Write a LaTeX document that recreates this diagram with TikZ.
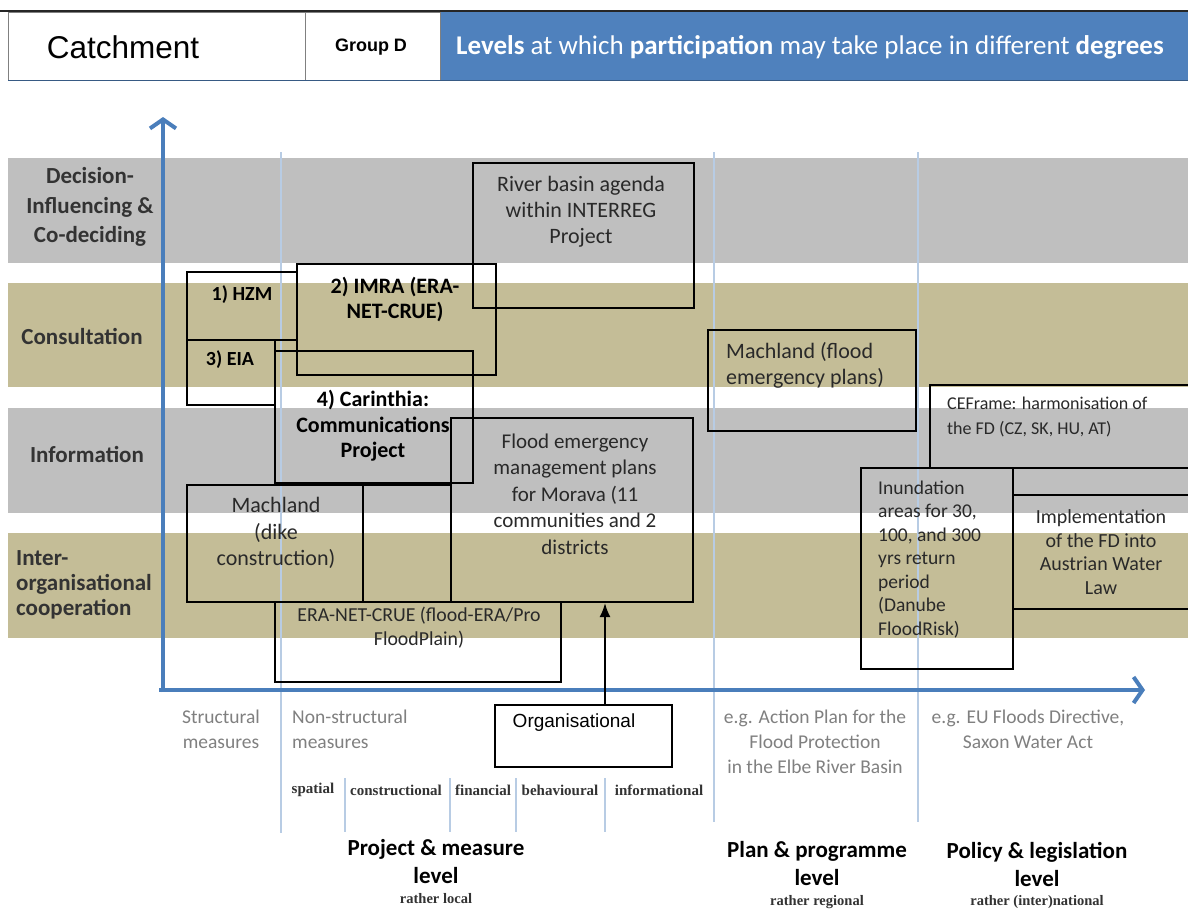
\documentclass[tikz,border=0pt]{standalone}
\usepackage{fontspec}
\setmainfont{Carlito}
\newfontfamily\arialfont{Liberation Sans}
\newfontfamily\seriffont{Liberation Serif}
\usetikzlibrary{arrows.meta}
\definecolor{bandgray}{HTML}{BFBFBF}
\definecolor{bandtan}{HTML}{C4BD97}
\definecolor{axisblue}{HTML}{4A7EBB}
\definecolor{gridblue}{HTML}{B8CCE4}
\definecolor{headblue}{HTML}{4F81BD}
\definecolor{labelgray}{HTML}{333333}
\definecolor{notegray}{HTML}{808080}
\begin{document}
\begin{tikzpicture}[x=1pt,y=-1pt,
  box/.style={draw=black, line width=2pt, inner sep=0pt, anchor=north west},
  boxtext/.style={align=center, inner sep=0pt, text=labelgray!80!black, font=\fontsize{21.5}{26}\selectfont},
  boldtext/.style={align=center, inner sep=0pt, text=black, font=\bfseries\fontsize{22}{25.5}\selectfont},
  levellabel/.style={align=center, inner sep=0pt, text=labelgray, font=\bfseries\fontsize{23}{29.5}\selectfont},
  axisline/.style={draw=axisblue, line width=4pt, -{Straight Barb[length=9pt,width=26pt,line width=4pt]}},
  gridline/.style={draw=gridblue, line width=1.6pt},
  note/.style={align=center, inner sep=0pt, text=notegray, font=\fontsize{19.5}{25}\selectfont},
  subcat/.style={inner sep=0pt, text=labelgray, font=\seriffont\bfseries\fontsize{15}{16}\selectfont},
  levelname/.style={align=center, inner sep=0pt, text=black, font=\bfseries\fontsize{23}{28}\selectfont},
  levelsub/.style={inner sep=0pt, text=labelgray, font=\seriffont\bfseries\fontsize{14.5}{15}\selectfont}]
\useasboundingbox (0,0) rectangle (1188,910);
\fill[white] (0,0) rectangle (1188,910);

% ---- header bar ----
\fill[headblue] (440,12) rectangle (1188,80);
\draw[line width=0.8pt, draw=gray, fill=white] (8,12) rectangle (305,80);
\draw[line width=0.8pt, draw=gray, fill=white] (305,12) rectangle (440,80);
\draw[line width=2.5pt, draw=black!85] (0,11) -- (1188,11);
\draw[line width=1.5pt, draw=headblue!70!black] (8,80.5) -- (1188,80.5);
\node[inner sep=0pt, font=\arialfont\fontsize{31.5}{33}\selectfont] (catchment) at (123,47) {Catchment};
\node[inner sep=0pt, font=\arialfont\bfseries\fontsize{18}{20}\selectfont] (groupd) at (371,47) {Group D};
\node[inner sep=0pt, text=white, font=\fontsize{27}{29}\selectfont] (headline) at (810,47)
  {\textbf{Levels} at which \textbf{participation} may take place in different \textbf{degrees}};

% ---- participation bands ----
\fill[bandgray] (8,158) rectangle (1188,263);
\fill[bandtan]  (8,283) rectangle (1188,387);
\fill[bandgray] (8,408) rectangle (1188,513);
\fill[bandtan]  (8,533) rectangle (1188,638);

\node[levellabel] (decide) at (90,207) {Decision-\\Influencing \&\\Co-deciding};
\node[levellabel] (consult) at (82,336) {Consultation};
\node[levellabel] (inform) at (87,454) {Information};
\node[levellabel, align=left, anchor=west, font=\bfseries\fontsize{23}{25}\selectfont] (coop) at (16,585) {Inter-\\organisational\\cooperation};

% ---- level dividers ----
\draw[gridline] (281,152) -- (281,833);
\draw[gridline] (714,152) -- (714,822);
\draw[gridline] (918,152) -- (918,822);
\foreach \xx in {345,450,516,605} \draw[gridline] (\xx,778) -- (\xx,832);

% ---- axes ----
\coordinate (origin) at (163,692);
\coordinate (ytop) at (163,117);
\coordinate (xend) at (1145,690);
\draw[axisline] (origin) -- (ytop);
\draw[axisline] (159,690) -- (xend);

% ---- project boxes ----
\node[box, minimum width=199pt, minimum height=111pt] (imra) at (296,263) {};
\node[box, minimum width=221pt, minimum height=145pt] (river) at (472,162) {};
\node[box, minimum width=110pt, minimum height=68pt] (hzm) at (186,271) {};
\node[box, minimum width=88pt, minimum height=65pt] (eia) at (186,339) {};
\node[box, minimum width=198pt, minimum height=132pt] (carinthia) at (274,350) {};
\node[box, minimum width=242pt, minimum height=184pt] (flood) at (450,417) {};
\node[box, minimum width=176pt, minimum height=117pt] (dike) at (186,484) {};
\node[box, minimum width=88pt, minimum height=117pt] (dikeext) at (362,484) {};
\node[box, minimum width=286pt, minimum height=80pt] (eranet) at (274,601) {};
\node[box, minimum width=177pt, minimum height=62pt] (org) at (494,704) {};
\node[box, minimum width=208pt, minimum height=101pt] (machflood) at (707,329) {};
\node[box, minimum width=270pt, minimum height=83pt] (ceframe) at (929,384) {};
\node[box, minimum width=190pt, minimum height=114pt] (implement) at (1012,494) {};
\node[box, minimum width=152pt, minimum height=201pt] (inund) at (860,467) {};

\node[boxtext, font=\fontsize{22}{26}\selectfont] (rivertext) at (581,212) {River basin agenda\\within INTERREG\\Project};
\node[boldtext] (imratext) at (395,299.5) {2) IMRA (ERA-\\NET-CRUE)};
\node[boldtext, font=\bfseries\fontsize{20}{24}\selectfont] (hzmtext) at (242,295) {1) HZM};
\node[boldtext, font=\bfseries\fontsize{20}{24}\selectfont] (eiatext) at (230,360) {3) EIA};
\node[boldtext] (carinthiatext) at (373,426) {4) Carinthia:\\Communications\\Project};
\node[boxtext, font=\fontsize{21}{26.5}\selectfont] (floodtext) at (575,494) {Flood emergency\\management plans\\for Morava (11\\communities and 2\\districts};
\node[boxtext, font=\fontsize{22}{26.5}\selectfont] (diketext) at (276,533) {Machland\\(dike\\construction)};
\node[boxtext, font=\fontsize{19.8}{24}\selectfont] (eranettext) at (419,628) {ERA-NET-CRUE (flood-ERA/Pro\\FloodPlain)};
\node[inner sep=0pt, font=\arialfont\fontsize{19}{21}\selectfont] (orgtext) at (574,723) {Organisational};
\node[boxtext, align=left, anchor=west, font=\fontsize{22}{26}\selectfont] (machfloodtext) at (726,365) {Machland (flood\\emergency plans)};
\node[boxtext, align=left, anchor=west, font=\fontsize{18}{25}\selectfont] (ceframetext) at (947,417) {CEFrame: harmonisation of\\the FD (CZ, SK, HU, AT)};
\node[boxtext, align=left, anchor=west, font=\fontsize{19.5}{23.5}\selectfont] (inundtext) at (878,559.5) {Inundation\\areas for 30,\\100, and 300\\yrs return\\period\\(Danube\\FloodRisk)};
\node[boxtext, font=\fontsize{20}{23.5}\selectfont] (implementtext) at (1101,552) {Implementation\\of the FD into\\Austrian Water\\Law};

% ---- organisational link ----
\coordinate (orgtap) at (605,704);
\draw[line width=2pt, -{Latex[length=14pt,width=11pt]}] (orgtap) -- (orgtap |- flood.south);

% ---- scale annotations ----
\node[note] (structural) at (221,729.5) {Structural\\measures};
\node[note, align=left, anchor=west] (nonstructural) at (292,729.5) {Non-structural\\measures};
\node[subcat] (spatial) at (313,790) {spatial};
\node[subcat] (constructional) at (396,790) {constructional};
\node[subcat] (financial) at (483,790) {financial};
\node[subcat] (behavioural) at (560,790) {behavioural};
\node[subcat] (informational) at (659,790) {informational};
\node[note] (actionplan) at (815,742) {e.g. Action Plan for the\\Flood Protection\\in the Elbe River Basin};
\node[note] (directive) at (1028,729.5) {e.g. EU Floods Directive,\\Saxon Water Act};

\node[levelname] (projlevel) at (436,862) {Project \& measure\\level};
\node[levelsub] (local) at (436,899) {rather local};
\node[levelname] (planlevel) at (817,863.5) {Plan \& programme\\level};
\node[levelsub] (regional) at (817,902) {rather regional};
\node[levelname] (policylevel) at (1037,864) {Policy \& legislation\\level};
\node[levelsub] (national) at (1037,902) {rather (inter)national};
\end{tikzpicture}
\end{document}
